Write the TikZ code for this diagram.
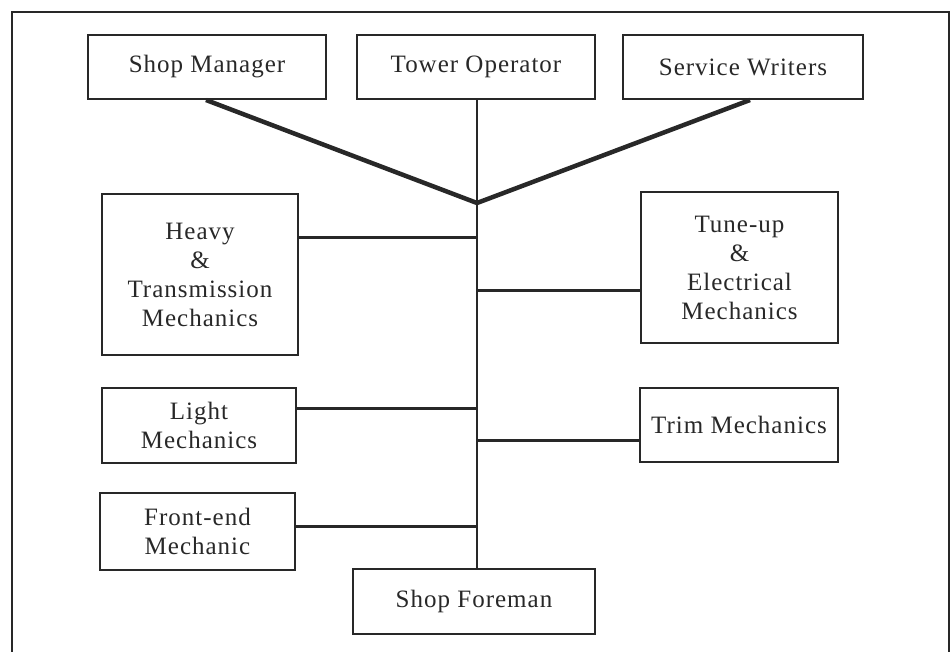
\documentclass[tikz,border=0pt]{standalone}
\usepackage{fontspec}
\setmainfont{Liberation Serif}[LetterSpace=4]
\definecolor{ink}{RGB}{40,40,40}
\begin{document}
\begin{tikzpicture}[x=1pt,y=-1pt,
    box/.style={draw=ink,line width=2pt,inner sep=0pt,align=center,text=ink,
      font=\fontsize{25}{29}\selectfont},
    feed/.style={draw=ink,line width=4.5pt,line join=round},
    stem/.style={draw=ink,line width=2.4pt},
    link/.style={draw=ink,line width=3pt}]
  \useasboundingbox (0,0) rectangle (952,652);
  % outer frame, open at the bottom
  \draw[ink,line width=2pt] (12,652) -- (12,12) -- (949,12) -- (949,652);

  % top row
  \node[box,minimum width=238pt,minimum height=64pt] (mgr) at (207,67) {Shop Manager};
  \node[box,minimum width=238pt,minimum height=64pt] (tower) at (476,67) {Tower Operator};
  \node[box,minimum width=240pt,minimum height=64pt] (writers) at (743,67) {Service Writers};

  % left column
  \node[box,minimum width=196pt,minimum height=161pt] (heavy) at (200,274.5)
    {Heavy\\\&\\Transmission\\Mechanics};
  \node[box,minimum width=194pt,minimum height=75pt] (light) at (199,425.5)
    {Light\\Mechanics};
  \node[box,minimum width=195pt,minimum height=77pt] (front) at (197.5,531.5)
    {Front-end\\Mechanic};

  % right column
  \node[box,minimum width=197pt,minimum height=151pt] (tune) at (739.5,267.5)
    {Tune-up\\\&\\Electrical\\Mechanics};
  \node[box,minimum width=198pt,minimum height=74pt] (trim) at (739,425)
    {Trim Mechanics};

  % bottom
  \node[box,minimum width=242pt,minimum height=65pt] (foreman) at (474,601.5) {Shop Foreman};

  % joints on the stem
  \coordinate (hub) at (477,203);
  \coordinate (jheavy) at (477,238);
  \coordinate (jtune) at (477,290);
  \coordinate (jlight) at (477,408);
  \coordinate (jtrim) at (477,440);
  \coordinate (jfront) at (477,526);

  \draw[feed] ([xshift=-1pt]mgr.south) -- (hub) -- ([xshift=7pt]writers.south);
  \draw[stem] (hub |- tower.south) -- (hub |- foreman.north);

  \draw[link] (jheavy) -- (jheavy -| heavy.east);
  \draw[link] (jlight) -- (jlight -| light.east);
  \draw[link] (jfront) -- (jfront -| front.east);
  \draw[link] (jtune) -- (jtune -| tune.west);
  \draw[link] (jtrim) -- (jtrim -| trim.west);
\end{tikzpicture}
\end{document}
